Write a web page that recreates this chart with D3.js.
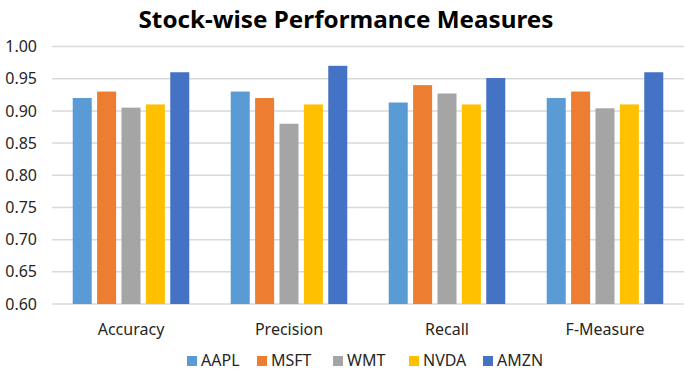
<!DOCTYPE html>
<html lang="en">
<head>
  <meta charset="UTF-8">
  <title>Stock-wise Performance Measures</title>
  <script src="https://d3js.org/d3.v7.min.js"></script>
  <style>
    body { margin: 0; background: #fff; }
    svg { display: block; font-family: "Noto Sans", "Open Sans", sans-serif; }
  </style>
</head>
<body>
  <svg id="chart"></svg>
  <script>
    const width = 685, height = 371;

    // data
    const measures = ["Accuracy", "Precision", "Recall", "F-Measure"];
    const stocks = ["AAPL", "MSFT", "WMT", "NVDA", "AMZN"];
    const colors = ["#5B9BD5", "#ED7D31", "#A5A5A5", "#FFC000", "#4472C4"];
    const aapl = [0.92, 0.93, 0.913, 0.92];
    const msft = [0.93, 0.92, 0.94, 0.93];
    const wmt  = [0.905, 0.88, 0.927, 0.904];
    const nvda = [0.91, 0.91, 0.91, 0.91];
    const amzn = [0.96, 0.97, 0.951, 0.96];
    const yTicks = [0.60, 0.65, 0.70, 0.75, 0.80, 0.85, 0.90, 0.95, 1.00];

    const series = [aapl, msft, wmt, nvda, amzn];

    const svg = d3.select("#chart")
      .attr("width", width)
      .attr("height", height);

    const x0 = d3.scaleBand().domain(measures).range([52, 684]);
    const x1 = d3.scaleBand().domain(stocks).range([0, x0.bandwidth()])
      .paddingInner(0.22).paddingOuter(0.85);
    const y = d3.scaleLinear().domain([0.6, 1.0]).range([304, 46.5]);
    const color = d3.scaleOrdinal(stocks, colors);

    // title
    svg.append("text")
      .attr("x", 346).attr("y", 28)
      .attr("text-anchor", "middle")
      .attr("font-size", 24).attr("font-weight", "bold")
      .attr("fill", "#000")
      .attr("textLength", 415).attr("lengthAdjust", "spacingAndGlyphs")
      .text("Stock-wise Performance Measures");

    // gridlines
    svg.append("g")
      .selectAll("line")
      .data(yTicks)
      .join("line")
      .attr("x1", 52).attr("x2", 684)
      .attr("y1", d => y(d)).attr("y2", d => y(d))
      .attr("stroke", "#d9d9d9")
      .attr("stroke-width", 1.5);

    // y axis labels
    const yAxis = svg.append("g")
      .attr("transform", "translate(37,0)")
      .call(d3.axisLeft(y).tickValues(yTicks).tickFormat(d3.format(".2f")).tickSize(0).tickPadding(0));
    yAxis.select(".domain").remove();
    yAxis.selectAll("text")
      .attr("font-size", 16)
      .attr("font-family", "\"Noto Sans\", sans-serif")
      .attr("fill", "#262626");

    // bars
    const groups = svg.append("g")
      .selectAll("g")
      .data(measures)
      .join("g")
      .attr("transform", d => `translate(${x0(d)},0)`);

    groups.selectAll("rect")
      .data((m, i) => stocks.map((s, j) => ({ stock: s, value: series[j][i] })))
      .join("rect")
      .attr("x", d => x1(d.stock))
      .attr("width", x1.bandwidth())
      .attr("y", d => y(d.value))
      .attr("height", d => y(0.6) - y(d.value))
      .attr("fill", d => color(d.stock));

    // category labels
    const xAxis = svg.append("g")
      .attr("transform", "translate(0,304)")
      .call(d3.axisBottom(x0).tickSize(0).tickPadding(0));
    xAxis.select(".domain").remove();
    xAxis.selectAll("text")
      .attr("dy", null)
      .attr("y", 31)
      .attr("font-size", 16)
      .attr("font-family", "\"Noto Sans\", sans-serif")
      .attr("fill", "#262626");

    // legend
    const legendX = [187, 257, 333, 409, 483];
    const legend = svg.append("g")
      .selectAll("g")
      .data(stocks)
      .join("g")
      .attr("transform", (d, i) => `translate(${legendX[i]},356)`);

    legend.append("rect")
      .attr("width", 10).attr("height", 10)
      .attr("fill", d => color(d));

    legend.append("text")
      .attr("x", 14).attr("y", 10)
      .attr("font-size", 16)
      .attr("fill", "#262626")
      .text(d => d);
  </script>
</body>
</html>
